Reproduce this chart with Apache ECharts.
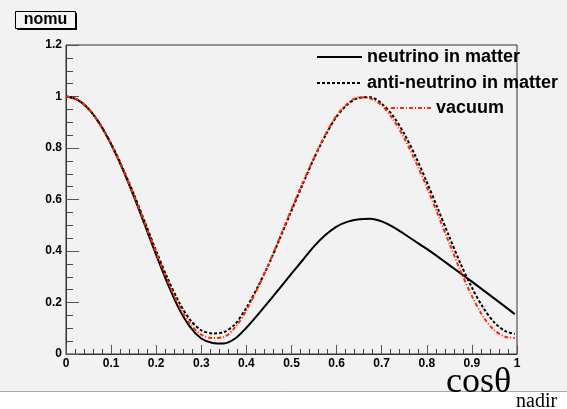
<!DOCTYPE html>
<html>
<head>
<meta charset="utf-8">
<script src="https://cdn.jsdelivr.net/npm/echarts@6/dist/echarts.min.js"></script>
<style>
  html, body { margin: 0; padding: 0; background: #ffffff; }
  #chart { width: 567px; height: 409px; }
</style>
</head>
<body>
<div id="chart"></div>
<script>
// cos(theta_nadir) sample points
const xs = [0, 0.025, 0.05, 0.075, 0.1, 0.125, 0.15, 0.175, 0.2, 0.225,
            0.25, 0.275, 0.3, 0.325, 0.35, 0.375, 0.4, 0.425, 0.45, 0.475,
            0.5, 0.525, 0.55, 0.575, 0.6, 0.625, 0.65, 0.675, 0.7, 0.725,
            0.75, 0.775, 0.8, 0.825, 0.85, 0.875, 0.9, 0.925, 0.95, 0.975, 0.995];

// survival probability, neutrino through matter
const neutrino = [1.000, 0.988, 0.952, 0.893, 0.814, 0.720, 0.614, 0.500, 0.385, 0.275,
                  0.178, 0.105, 0.060, 0.043, 0.041, 0.060, 0.102, 0.152, 0.204, 0.258,
                  0.312, 0.365, 0.418, 0.462, 0.495, 0.514, 0.523, 0.525, 0.515, 0.494,
                  0.466, 0.437, 0.408, 0.377, 0.345, 0.313, 0.281, 0.248, 0.215, 0.182, 0.155];

// survival probability, anti-neutrino through matter
const antiNeutrino = [1.000, 0.988, 0.952, 0.894, 0.817, 0.725, 0.622, 0.512, 0.400, 0.295,
                      0.203, 0.133, 0.092, 0.080, 0.085, 0.116, 0.180, 0.260, 0.350, 0.452,
                      0.557, 0.660, 0.760, 0.848, 0.922, 0.970, 0.995, 0.997, 0.972, 0.925,
                      0.855, 0.768, 0.668, 0.562, 0.455, 0.350, 0.258, 0.180, 0.122, 0.088, 0.078];

// survival probability in vacuum
const vacuum = [1.000, 0.988, 0.952, 0.893, 0.815, 0.722, 0.618, 0.506, 0.393, 0.285,
                0.190, 0.117, 0.075, 0.062, 0.066, 0.103, 0.170, 0.255, 0.352, 0.457,
                0.563, 0.666, 0.762, 0.852, 0.926, 0.974, 0.997, 0.992, 0.966, 0.912,
                0.838, 0.748, 0.648, 0.540, 0.430, 0.322, 0.225, 0.145, 0.092, 0.066, 0.062];

const seriesNames = ['neutrino in matter', 'anti-neutrino in matter', 'vacuum'];

const pairs = (ys) => xs.map((x, i) => [x, ys[i]]);

const labelFont = { fontFamily: 'Liberation Sans', fontWeight: 'bold', fontSize: 12, color: '#000' };
const legendText = { fontFamily: 'Liberation Sans', fontWeight: 'bold', fontSize: 18, color: '#000', lineHeight: 20 };
// legend entries show only the line sample, no marker
const legendBase = {
  padding: 0, itemHeight: 20, selectedMode: false, textStyle: legendText,
  itemStyle: { opacity: 0, borderWidth: 0 }
};

const chart = echarts.init(document.getElementById('chart'), null, { renderer: 'canvas' });

chart.setOption({
  animation: false,
  backgroundColor: '#ffffff',
  grid: {
    left: 66, right: 50, top: 45, bottom: 55,
    show: true, borderColor: '#333', borderWidth: 1, backgroundColor: 'transparent'
  },
  xAxis: {
    type: 'value', min: 0, max: 1, interval: 0.1,
    axisLine: { show: true, onZero: false, lineStyle: { color: '#333', width: 1 } },
    axisTick: { show: true, inside: true, length: 9, lineStyle: { color: '#555' } },
    minorTick: { show: true, splitNumber: 5, length: 5, lineStyle: { color: '#444' } },
    splitLine: { show: false },
    axisLabel: Object.assign({ margin: 4 }, labelFont)
  },
  yAxis: {
    type: 'value', min: 0, max: 1.2, interval: 0.2,
    axisLine: { show: true, onZero: false, lineStyle: { color: '#333', width: 1 } },
    axisTick: { show: true, inside: true, length: 13, lineStyle: { color: '#555' } },
    minorTick: { show: true, splitNumber: 4, length: 7, lineStyle: { color: '#444' } },
    splitLine: { show: false },
    axisLabel: Object.assign({ margin: 4 }, labelFont)
  },
  legend: [
    Object.assign({ data: [seriesNames[0]], left: 316, top: 47, itemWidth: 45 }, legendBase),
    Object.assign({ data: [seriesNames[1]], left: 316, top: 73, itemWidth: 45 }, legendBase),
    Object.assign({ data: [seriesNames[2]], left: 390, top: 98, itemWidth: 40 }, legendBase)
  ],
  series: [
    {
      name: seriesNames[0], type: 'line', data: pairs(neutrino),
      symbol: 'none', smooth: 0.3,
      lineStyle: { color: '#000', width: 2, type: 'solid' },
      itemStyle: { color: '#000' }
    },
    {
      name: seriesNames[1], type: 'line', data: pairs(antiNeutrino),
      symbol: 'none', smooth: 0.3,
      lineStyle: { color: '#000', width: 2, type: [3, 2] },
      itemStyle: { color: '#000' }
    },
    {
      name: seriesNames[2], type: 'line', data: pairs(vacuum),
      symbol: 'none', smooth: 0.3,
      lineStyle: { color: '#ff2a00', width: 2, type: [4, 2, 1, 2] },
      itemStyle: { color: '#ff2a00' }
    }
  ],
  graphic: [
    // canvas panel and its lower edge
    { type: 'rect', z: -10, shape: { x: 0, y: 0, width: 567, height: 391 }, style: { fill: '#f2f2f2' } },
    { type: 'line', z: -9, shape: { x1: 0, y1: 391.5, x2: 567, y2: 391.5 }, style: { stroke: '#a8a8a8', lineWidth: 1 } },
    // title box with drop shadow
    { type: 'rect', z: 5, shape: { x: 17, y: 13, width: 60, height: 17 }, style: { fill: '#000' } },
    { type: 'rect', z: 6, shape: { x: 15.5, y: 11.5, width: 60, height: 17 }, style: { fill: '#f4f4f4', stroke: '#000', lineWidth: 1 } },
    {
      type: 'text', z: 7, x: 45.5, y: 20,
      style: { text: 'nomu', font: 'bold 16px "Liberation Sans"', fill: '#000', align: 'center', verticalAlign: 'middle' }
    },
    // x-axis title: cos(theta) with subscript
    {
      type: 'text', z: 7, x: 446, y: 383,
      style: { text: 'cos\u03b8', font: '36px "Liberation Serif"', fill: '#000', align: 'left', verticalAlign: 'middle' }
    },
    {
      type: 'text', z: 7, x: 516, y: 402,
      style: { text: 'nadir', font: '20px "Liberation Serif"', fill: '#000', align: 'left', verticalAlign: 'middle' }
    }
  ]
});
</script>
</body>
</html>
